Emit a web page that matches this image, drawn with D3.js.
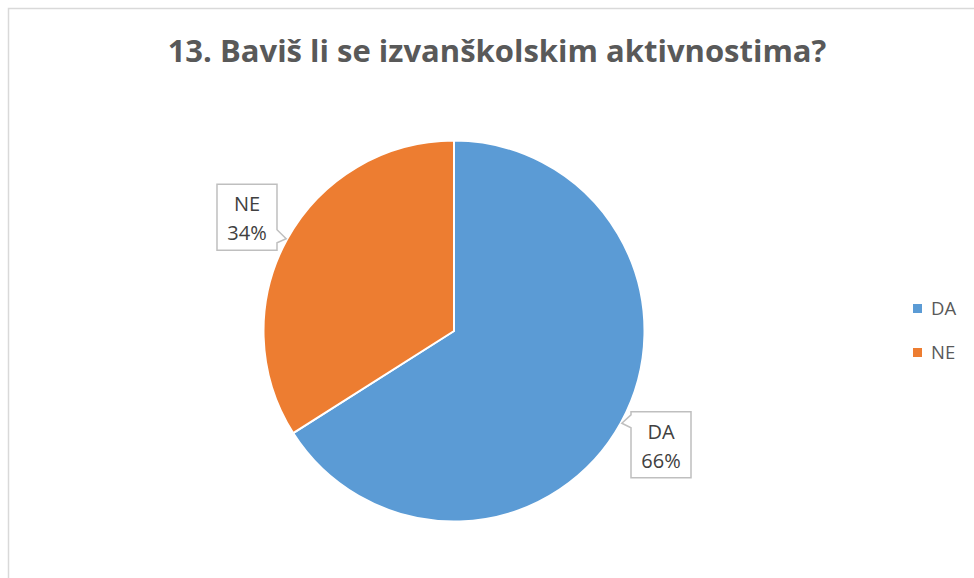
<!DOCTYPE html>
<html>
<head>
<meta charset="utf-8">
<script src="https://cdn.jsdelivr.net/npm/d3@7"></script>
<style>
  html, body { margin: 0; padding: 0; background: #fff; }
  svg { display: block; }
</style>
</head>
<body>
<div class="chart"></div>
<script>
// ======= PIE: 13. Baviš li se izvanškolskim aktivnostima? =======

const title = '13. Baviš li se izvanškolskim aktivnostima?'
const categories = ['DA', 'NE']
const values = [66, 34]
const colors = ['#5B9BD5', '#ED7D31']

const width = 974
const height = 578
const cx = 454
const cy = 331
const radius = 190.5

const svg = d3.select('.chart')
  .append('svg')
    .attr('width', width)
    .attr('height', height)

// chart frame (runs off the right/bottom edge)
svg.append('rect')
  .attr('x', 8.5)
  .attr('y', 8.5)
  .attr('width', width + 20)
  .attr('height', height + 20)
  .attr('fill', '#fff')
  .attr('stroke', '#d9d9d9')
  .attr('stroke-width', 1.5)

svg.append('text')
  .attr('x', 497)
  .attr('y', 62)
  .attr('text-anchor', 'middle')
  .attr('font-family', 'Open Sans, sans-serif')
  .attr('font-weight', 'bold')
  .attr('font-size', 31)
  .attr('fill', '#595959')
  .text(title)

const color = d3.scaleOrdinal()
  .domain(categories)
  .range(colors)

const pie = d3.pie()
  .sort(null)
  .value(d => d.value)

const arcs = pie(categories.map((c, i) => ({name: c, value: values[i]})))
const total = d3.sum(values)

const arc = d3.arc()
  .innerRadius(0)
  .outerRadius(radius)

const g = svg.append('g')
  .attr('transform', `translate(${cx}, ${cy})`)

g.selectAll('path')
  .data(arcs)
  .enter()
  .append('path')
    .attr('d', arc)
    .attr('fill', d => color(d.data.name))
    .attr('stroke', '#fff')
    .attr('stroke-width', 2)
    .attr('stroke-linejoin', 'round')

// callout labels
const boxW = 60
const boxH = 66
const labelR = radius * 1.24

const labels = g.selectAll('g.label')
  .data(arcs)
  .enter()
  .append('g')
    .attr('class', 'label')

labels.append('path')
  .attr('fill', '#fff')
  .attr('stroke', '#bfbfbf')
  .attr('stroke-width', 1.5)
  .attr('d', d => {
    const a = (d.startAngle + d.endAngle) / 2
    const bx = Math.sin(a) * labelR
    const by = -Math.cos(a) * labelR
    const tx = Math.sin(a) * (radius + 1)
    const ty = -Math.cos(a) * (radius + 1)
    const l = bx - boxW / 2, r = bx + boxW / 2
    const t = by - boxH / 2, b = by + boxH / 2
    const y0 = Math.max(t + 3, Math.min(b - 16, ty - 9))
    const y1 = y0 + 13
    if (tx > bx) {
      // pointer on the right side
      return `M${l},${t}H${r}V${y0}L${tx},${ty}L${r},${y1}V${b}H${l}Z`
    }
    return `M${l},${t}H${r}V${b}H${l}V${y1}L${tx},${ty}L${l},${y0}Z`
  })

labels.append('text')
  .attr('text-anchor', 'middle')
  .attr('font-family', 'Open Sans, sans-serif')
  .attr('font-size', 20)
  .attr('fill', '#404040')
  .each(function (d) {
    const a = (d.startAngle + d.endAngle) / 2
    const bx = Math.sin(a) * labelR
    const by = -Math.cos(a) * labelR
    const t = d3.select(this)
    t.append('tspan')
      .attr('x', bx)
      .attr('y', by - 6)
      .text(d.data.name)
    t.append('tspan')
      .attr('x', bx)
      .attr('y', by + 23)
      .text(Math.round(d.value / total * 100) + '%')
  })

// legend
const legend = svg.append('g')
  .attr('transform', 'translate(913, 304)')

const items = legend.selectAll('g')
  .data(categories)
  .enter()
  .append('g')
    .attr('transform', (d, i) => `translate(0, ${i * 44})`)

items.append('rect')
  .attr('width', 9)
  .attr('height', 9)
  .attr('fill', d => color(d))

items.append('text')
  .attr('x', 18)
  .attr('y', 11)
  .attr('font-family', 'Open Sans, sans-serif')
  .attr('font-size', 18.5)
  .attr('fill', '#595959')
  .text(d => d)
</script>
</body>
</html>
